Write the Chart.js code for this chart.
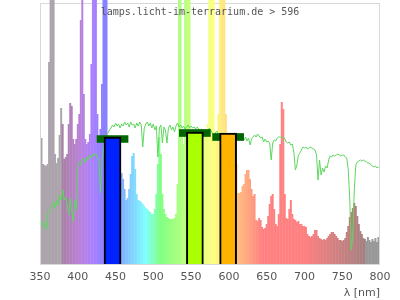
<!DOCTYPE html>
<html>
<head>
<meta charset="utf-8">
<title>Spektrum 596</title>
<script src="https://cdn.jsdelivr.net/npm/chart.js@4"></script>
<style>
  html,body{margin:0;padding:0;background:#fff;}
  #chart{display:block;}
</style>
</head>
<body>
<canvas id="chart" width="400" height="300"></canvas>
<script>
// ================= DATOS =================
const START_NM = 350;   // erste Messung
const STEP_NM = 2;      // Abstand der Messpunkte

// Lampenspektrum (relative Intensität, 0..261 = Diagrammhöhe)
const spectrum = [
  101,126,100,99,98,100,202,300,300,300,
  110,101,106,129,156,140,105,107,110,140,
  161,158,125,120,125,140,150,244,300,170,
  125,120,122,130,200,300,300,300,150,125,
  135,180,300,300,300,120,110,105,100,100,
  110,115,100,91,91,85,75,64,66,75,
  90,108,111,95,70,64,63,62,60,58,
  56,55,53,52,50,50,55,70,100,127,
  110,70,55,50,47,46,45,45,45,46,
  50,80,300,300,130,120,300,300,300,300,
  130,120,120,120,120,120,120,120,125,128,
  130,140,300,300,300,300,130,125,150,300,
  300,300,300,150,120,120,120,120,120,120,
  100,71,71,72,78,80,90,94,94,85,
  75,68,70,44,43,46,44,37,35,36,
  40,48,60,68,70,55,40,38,50,120,
  162,155,70,46,45,55,64,50,45,44,
  42,43,40,40,38,38,37,30,28,27,
  28,30,34,34,28,26,25,24,25,24,
  26,28,30,32,32,30,28,26,24,24,
  23,24,26,32,38,47,52,56,61,58,
  48,40,33,30,26,25,23,27,24,22,
  25,23,26,22,27,26
];

// Sonnenspektrum (Vergleichskurve)
const sunlight = [
  47,42,38,42,34,50,52,54,59,62,
  56,64,59,69,64,74,64,67,59,49,
  66,54,42,64,54,99,102,99,106,104,
  101,107,104,109,106,110,108,111,106,104,
  71,104,114,124,129,131,134,136,139,137,
  141,138,140,136,140,138,142,139,141,137,
  142,139,140,136,141,138,142,139,117,136,
  140,142,138,141,136,140,134,138,107,136,
  139,121,137,134,121,136,139,134,137,132,
  138,141,137,139,136,138,135,137,139,136,
  138,136,137,135,137,135,134,135,133,131,
  134,132,136,134,131,129,131,133,130,127,
  129,129,130,129,130,129,129,128,129,128,
  128,128,129,126,128,124,127,123,126,119,
  125,127,129,127,130,128,126,127,122,125,
  122,123,121,104,121,124,123,126,127,127,
  126,127,125,122,121,122,119,120,112,94,
  99,109,111,114,117,116,117,115,116,117,
  116,115,114,109,84,104,89,96,92,98,
  96,104,108,107,109,108,109,110,109,108,
  109,109,107,106,94,64,14,29,74,99,
  102,103,104,103,104,103,102,101,101,99,
  98,97,98,96,97,97
];

// Blau / Grün / Rot Anteile
const bandWl   = [446, 555, 599];
const bandVal  = [127, 132, 131];
const targetVal = [125, 131, 127];
const bandColors = ["#0022ff", "#aaff00", "#ffb300"];

const wavelengths = spectrum.map((v, i) => START_NM + i * STEP_NM);

// ================= FARBEN =================
function wlColor(nm){
  if(nm < 380) return "#aca4ac";
  if(nm > 780) return "#999999";
  let r = 0, g = 0, b = 0;
  if(nm < 440){ r = (440 - nm) / 60; b = 1; }
  else if(nm < 490){ g = (nm - 440) / 50; b = 1; }
  else if(nm < 510){ g = 1; b = (510 - nm) / 20; }
  else if(nm < 580){ r = (nm - 510) / 70; g = 1; }
  else if(nm < 645){ r = 1; g = (645 - nm) / 65; }
  else { r = 1; }
  let f = 1;
  if(nm < 420) f = 0.3 + 0.7 * (nm - 380) / 40;
  else if(nm > 700) f = 0.3 + 0.7 * (780 - nm) / 80;
  const c = v => Math.round(255 * (0.5 + 0.5 * v * f));
  return `rgb(${c(r)},${c(g)},${c(b)})`;
}

// ================= RAHMEN + TITEL =================
const frame = {
  id: "frame",
  beforeDatasetsDraw(chart){
    const {ctx, chartArea: a} = chart;
    ctx.save();
    ctx.strokeStyle = "#d8d8d8";
    ctx.lineWidth = 1;
    ctx.beginPath();
    ctx.moveTo(a.left, a.top + 0.5);
    ctx.lineTo(a.right, a.top + 0.5);
    ctx.stroke();
    ctx.restore();
  },
  afterDatasetsDraw(chart){
    const {ctx, chartArea: a} = chart;
    ctx.save();
    ctx.strokeStyle = "#d8d8d8";
    ctx.lineWidth = 1;
    ctx.beginPath();
    ctx.moveTo(a.left + 0.5, a.top);
    ctx.lineTo(a.left + 0.5, a.bottom + 0.5);
    ctx.lineTo(a.right - 0.5, a.bottom + 0.5);
    ctx.lineTo(a.right - 0.5, a.top);
    ctx.stroke();
    ctx.restore();
  },
  afterDraw(chart){
    const ctx = chart.ctx;
    ctx.save();
    ctx.fillStyle = "#555";
    ctx.font = '10px "DejaVu Sans Mono"';
    ctx.textAlign = "center";
    ctx.textBaseline = "alphabetic";
    ctx.fillText("lamps.licht-im-terrarium.de > 596", chart.width / 2, 15);
    ctx.restore();
  }
};

// ================= DIAGRAMM =================
const CAP_HALF = 3.5;
const ctx = document.getElementById("chart").getContext("2d");

new Chart(ctx, {
  type: "bar",
  data: {
    datasets: [
      {
        type: "bar",
        label: "Lampe",
        xAxisID: "x",
        data: wavelengths.map((x, i) => ({x, y: spectrum[i]})),
        backgroundColor: wavelengths.map(wlColor),
        barPercentage: 1.3,
        categoryPercentage: 1,
        grouped: false,
        order: 4,
        clip: {left: 0, right: 0, bottom: 0, top: false}
      },
      {
        type: "line",
        label: "Sonne",
        xAxisID: "x",
        data: wavelengths.map((x, i) => ({x, y: sunlight[i]})),
        borderColor: "#5ed65e",
        borderWidth: 1,
        pointRadius: 0,
        tension: 0,
        order: 3
      },
      {
        type: "bar",
        label: "Soll",
        xAxisID: "x2",
        data: bandWl.map((x, i) => ({x, y: [targetVal[i] - CAP_HALF, targetVal[i] + CAP_HALF]})),
        backgroundColor: "#006400",
        barThickness: 31,
        grouped: false,
        order: 2
      },
      {
        type: "bar",
        label: "Ist",
        xAxisID: "x2",
        data: bandWl.map((x, i) => ({x, y: bandVal[i]})),
        backgroundColor: bandColors,
        borderColor: "#000",
        borderWidth: 2,
        barThickness: 17,
        grouped: false,
        order: 1
      }
    ]
  },
  options: {
    responsive: false,
    animation: false,
    devicePixelRatio: 1,
    layout: {padding: {left: 40, right: 20, top: 3, bottom: 0}},
    plugins: {legend: {display: false}, tooltip: {enabled: false}},
    scales: {
      x: {
        type: "linear", position: "bottom", min: 350, max: 800, offset: false,
        grid: {display: false, drawTicks: false},
        border: {display: false},
        ticks: {stepSize: 50, color: "#555", padding: 7, maxRotation: 0,
                font: {family: "DejaVu Sans", size: 11}},
        title: {display: true, text: "λ [nm]", align: "end", color: "#555",
                font: {family: "DejaVu Sans", size: 11}, padding: {top: 2, bottom: 0}},
        afterFit: s => { s.height = 36; }
      },
      x2: {type: "linear", position: "bottom", min: 350, max: 800, offset: false, display: false},
      y: {min: 0, max: 261, display: false}
    }
  },
  plugins: [frame]
});
</script>
</body>
</html>
